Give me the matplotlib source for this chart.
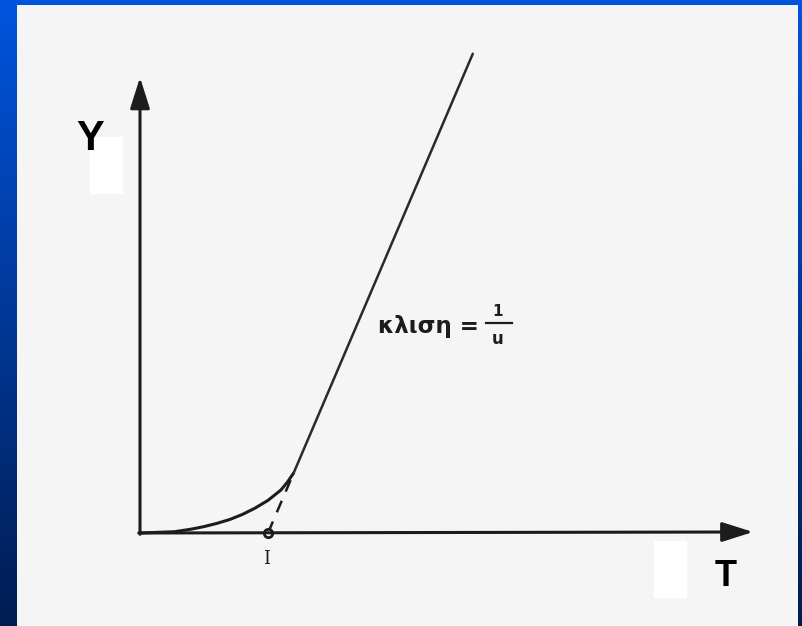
import numpy as np
import matplotlib.pyplot as plt
from matplotlib.patches import Rectangle

# curve (x in units of the intercept)
curve_x = [0, 0.27, 0.4, 0.5, 0.6, 0.7, 0.8, 0.9, 1.0, 1.1, 1.15, 1.2]
curve_y = [0, 0.01, 0.03, 0.05, 0.075, 0.105, 0.145, 0.195, 0.255, 0.335, 0.395, 0.468]

intercept = 1.0      # where the asymptote meets the T axis
slope = 2.34         # slope of the straight part
line_start = 1.2
line_end = 2.6
dash_end = 1.18

ink = "#1c1c1c"
px = 128.0           # pixels per unit
ox, oy = 140, 533    # origin in pixels


def u(x, y):
    # pixel position -> chart units
    return (x - ox) / px, (oy - y) / px


fig = plt.figure(figsize=(8.02, 6.26), dpi=100)

# blue frame with vertical gradient
bg = fig.add_axes([0, 0, 1, 1])
grad = np.linspace(0, 1, 256)[:, None]
top = np.array([0.0, 0.33, 0.87])
bottom = np.array([0.0, 0.11, 0.32])
img = top[None, None, :] * (1 - grad[:, :, None]) + bottom[None, None, :] * grad[:, :, None]
bg.imshow(img, aspect="auto", extent=[0, 802, 626, 0])
bg.set_xlim(0, 802)
bg.set_ylim(626, 0)
bg.axis("off")

# chart area
ax = fig.add_axes([17 / 802, 0, 781 / 802, 621 / 626])
ax.set_facecolor("#f5f5f5")
ax.set_xlim((17 - ox) / px, (798 - ox) / px)
ax.set_ylim((oy - 626) / px, (oy - 5) / px)
for s in ax.spines.values():
    s.set_visible(False)
ax.set_xticks([])
ax.set_yticks([])

# axes with arrows
arrow = dict(arrowstyle="-|>,head_length=1.9,head_width=0.6", lw=2.2, color=ink,
             shrinkA=0, shrinkB=0, mutation_scale=10)
ax.annotate("", xy=(4.79, 0.008), xytext=(-0.01, 0), arrowprops=arrow)
ax.annotate("", xy=(0, 3.56), xytext=(0, -0.01), arrowprops=arrow)

# curved start and straight asymptotic part
ax.plot(curve_x, curve_y, color=ink, lw=2.2, solid_capstyle="round", solid_joinstyle="round")
ax.plot([line_start, line_end],
        [slope * (line_start - intercept), slope * (line_end - intercept)],
        color="#2a2a2a", lw=1.8, solid_capstyle="round")
ax.plot([intercept, dash_end], [0, slope * (dash_end - intercept)],
        color=ink, lw=1.8, dashes=(5, 4))
ax.plot([intercept], [0], marker="o", ms=6, mfc="#f5f5f5", mec=ink, mew=2)

# slope label
ax.text(*u(378, 326), "κλιση =", fontsize=16.5, fontweight="bold",
        color=ink, ha="left", va="center", family="DejaVu Sans")
bx0, by = u(486, 323)
bx1, _ = u(512, 323)
ax.plot([bx0, bx1], [by, by], color=ink, lw=1.6)
ax.text(*u(498, 311), "1", fontsize=11, fontweight="bold",
        color=ink, ha="center", va="center")
ax.text(*u(498, 339), "u", fontsize=12, fontweight="bold",
        color=ink, ha="center", va="center")

# intercept mark below the T axis
ax.text(intercept - 0.01, -0.2, "I", fontsize=13, color=ink, ha="center", va="center",
        family="DejaVu Serif")

# axis names with white boxes
for x0, y0 in [(90, 193), (654, 597)]:
    ax.add_patch(Rectangle(u(x0, y0), 32 / px, 56 / px, color="white", zorder=3))
ax.text(*u(90, 139), "Y", fontsize=30, fontweight="bold",
        color="black", ha="center", va="center", family="Liberation Sans", zorder=5)
ax.text(*u(726, 577), "T", fontsize=26, fontweight="bold",
        color="black", ha="center", va="center", family="Liberation Sans", zorder=5)

fig.savefig("out.png", dpi=100)
